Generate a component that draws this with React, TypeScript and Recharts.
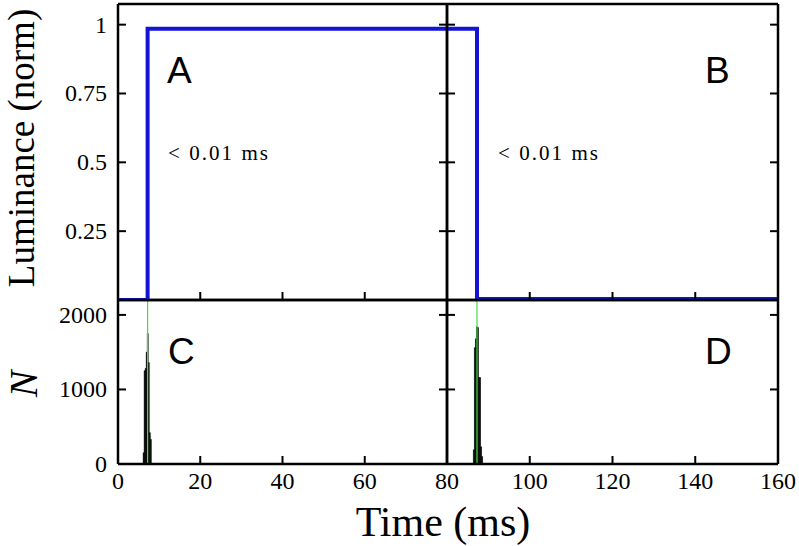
import { ComposedChart, Line, Bar, XAxis, YAxis, ReferenceLine } from "recharts"

const W = 799
const H = 546

// luminance traces (time in ms, normalised luminance)
const riseTimes = [0, 7.2, 80]
const riseLum = [0, 0.985, 0.985]
const fallTimes = [80, 87.25, 160]
const fallLum = [0.985, 0.004, 0.004]

// histograms of the measured transition times
const riseBins = [6.25, 6.5, 6.75, 7.0, 7.25, 7.5, 7.75, 8.0]
const riseCounts = [150, 1250, 1280, 1500, 1750, 1360, 420, 330]
const fallBins = [86.5, 86.75, 87.0, 87.25, 87.5, 87.75, 88.0, 88.25, 88.5]
const fallCounts = [190, 1560, 1680, 1840, 1830, 1160, 1160, 230, 100]

const edgeTimes = [7.2, 87.25]

const lumTicks = [0.25, 0.5, 0.75, 1]
const countTicks = [0, 1000, 2000]
const leftTimeTicks = [0, 20, 40, 60, 80]
const rightTimeTicks = [80, 100, 120, 140, 160]

const riseData = riseTimes.map((t, i) => ({ t, v: riseLum[i] }))
const fallData = fallTimes.map((t, i) => ({ t, v: fallLum[i] }))
const riseHist = riseBins.map((t, i) => ({ t, n: riseCounts[i] }))
const fallHist = fallBins.map((t, i) => ({ t, n: fallCounts[i] }))

const blue = "#1414d2"
const green = "#3fe03f"
const serif = "'Liberation Serif', 'DejaVu Serif', serif"
const sans = "'Liberation Sans', Arial, sans-serif"

const axisLine = { stroke: "#000", strokeWidth: 2.5 }
const tickLine = { stroke: "#000", strokeWidth: 2 }
const TICK = 8
const noLabel = () => ""

// the framed axes are mirrored (inward ticks); labels are drawn outside by hand
const bottomLabel = (show: (v: number) => boolean) => (p: any) =>
  show(p.payload.value) ? (
    <text x={p.x} y={p.y + TICK + 25} textAnchor="middle" fontFamily={serif} fontSize={24} fill="#000">
      {p.payload.value}
    </text>
  ) : (
    <g />
  )

const leftLabel = (show: boolean) => (p: any) =>
  show ? (
    <text x={p.x - TICK - 11} y={p.y + 8} textAnchor="end" fontFamily={serif} fontSize={24} fill="#000">
      {p.payload.value}
    </text>
  ) : (
    <g />
  )

type Box = { left: number; top: number; right: number; bottom: number }

const boxA: Box = { left: 118, top: 4, right: 447, bottom: 300 }
const boxB: Box = { left: 447, top: 4, right: 778, bottom: 300 }
const boxC: Box = { left: 118, top: 300, right: 447, bottom: 464 }
const boxD: Box = { left: 447, top: 300, right: 778, bottom: 464 }

const marginFor = (b: Box) => ({
  left: b.left,
  right: W - b.right,
  top: b.top,
  bottom: H - b.bottom,
})

type PanelProps = {
  box: Box
  data: any[]
  xDomain: [number, number]
  xTicks: number[]
  yDomain: [number, number]
  yTicks: number[]
  xShow?: (v: number) => boolean
  yLabels?: boolean
  children: any
}

const Panel = ({ box, data, xDomain, xTicks, yDomain, yTicks, xShow, yLabels, children }: PanelProps) => (
  <div style={{ position: "absolute", left: 0, top: 0 }}>
    <ComposedChart width={W} height={H} data={data} margin={marginFor(box)}>
      <XAxis
        xAxisId={0}
        dataKey="t"
        type="number"
        domain={xDomain}
        ticks={xTicks}
        interval={0}
        allowDataOverflow
        mirror
        axisLine={axisLine}
        tickLine={tickLine}
        tickSize={TICK}
        tickMargin={0}
        tick={bottomLabel(xShow || (() => false))}
      />
      <XAxis
        xAxisId="top"
        orientation="top"
        type="number"
        domain={xDomain}
        ticks={xTicks}
        interval={0}
        allowDataOverflow
        mirror
        axisLine={axisLine}
        tickLine={tickLine}
        tickSize={TICK}
        tickFormatter={noLabel}
      />
      <YAxis
        yAxisId={0}
        type="number"
        domain={yDomain}
        ticks={yTicks}
        interval={0}
        allowDataOverflow
        mirror
        axisLine={axisLine}
        tickLine={tickLine}
        tickSize={TICK}
        tickMargin={0}
        tick={leftLabel(!!yLabels)}
      />
      <YAxis
        yAxisId="right"
        orientation="right"
        type="number"
        domain={yDomain}
        ticks={yTicks}
        interval={0}
        allowDataOverflow
        mirror
        axisLine={axisLine}
        tickLine={tickLine}
        tickSize={TICK}
        tickFormatter={noLabel}
      />
      {children}
    </ComposedChart>
  </div>
)

const App = () => {
  return (
    <div style={{ position: "absolute", left: 0, top: 0, width: W, height: H, background: "#fff", fontFamily: serif }}>
      <Panel
        box={boxC}
        data={riseHist}
        xDomain={[0, 80]}
        xTicks={leftTimeTicks}
        yDomain={[0, 2200]}
        yTicks={countTicks}
        xShow={() => true}
        yLabels
      >
        <Bar dataKey="n" fill="#000" stroke="#000" strokeWidth={0.6} barSize={2.2} isAnimationActive={false} />
        <ReferenceLine x={edgeTimes[0]} stroke={green} strokeWidth={1.2} />
      </Panel>
      <Panel
        box={boxD}
        data={fallHist}
        xDomain={[80, 160]}
        xTicks={rightTimeTicks}
        yDomain={[0, 2200]}
        yTicks={countTicks}
        xShow={(v) => v !== 80}
      >
        <Bar dataKey="n" fill="#000" stroke="#000" strokeWidth={0.6} barSize={2.2} isAnimationActive={false} />
        <ReferenceLine x={edgeTimes[1]} stroke={green} strokeWidth={1.2} />
      </Panel>
      <Panel box={boxA} data={riseData} xDomain={[0, 80]} xTicks={leftTimeTicks} yDomain={[0, 1.075]} yTicks={lumTicks} yLabels>
        <Line type="stepAfter" dataKey="v" stroke={blue} strokeWidth={4} dot={false} strokeLinejoin="miter" isAnimationActive={false} />
      </Panel>
      <Panel box={boxB} data={fallData} xDomain={[80, 160]} xTicks={rightTimeTicks} yDomain={[0, 1.075]} yTicks={lumTicks}>
        <Line type="stepAfter" dataKey="v" stroke={blue} strokeWidth={4} dot={false} strokeLinejoin="miter" isAnimationActive={false} />
      </Panel>

      <svg width={W} height={H} style={{ position: "absolute", left: 0, top: 0, pointerEvents: "none" }}>
        <text x={34} y={148} transform="rotate(-90 34 148)" textAnchor="middle" fontFamily={serif} fontSize={37}>
          Luminance (norm)
        </text>
        <text x={37} y={384} transform="rotate(-90 37 384)" textAnchor="middle" fontFamily={serif} fontStyle="italic" fontSize={40}>
          N
        </text>
        <text x={443} y={536} textAnchor="middle" fontFamily={serif} fontSize={42}>
          Time (ms)
        </text>

        <text x={167} y={83} fontFamily={sans} fontSize={37}>A</text>
        <text x={705} y={83} fontFamily={sans} fontSize={37}>B</text>
        <text x={168} y={364} fontFamily={sans} fontSize={37}>C</text>
        <text x={705} y={364} fontFamily={sans} fontSize={37}>D</text>

        <text x={168} y={160} fontFamily={serif} fontSize={21} textLength={100} lengthAdjust="spacing">
          {"< 0.01 ms"}
        </text>
        <text x={498} y={160} fontFamily={serif} fontSize={21} textLength={100} lengthAdjust="spacing">
          {"< 0.01 ms"}
        </text>
      </svg>
    </div>
  )
}

export default App
